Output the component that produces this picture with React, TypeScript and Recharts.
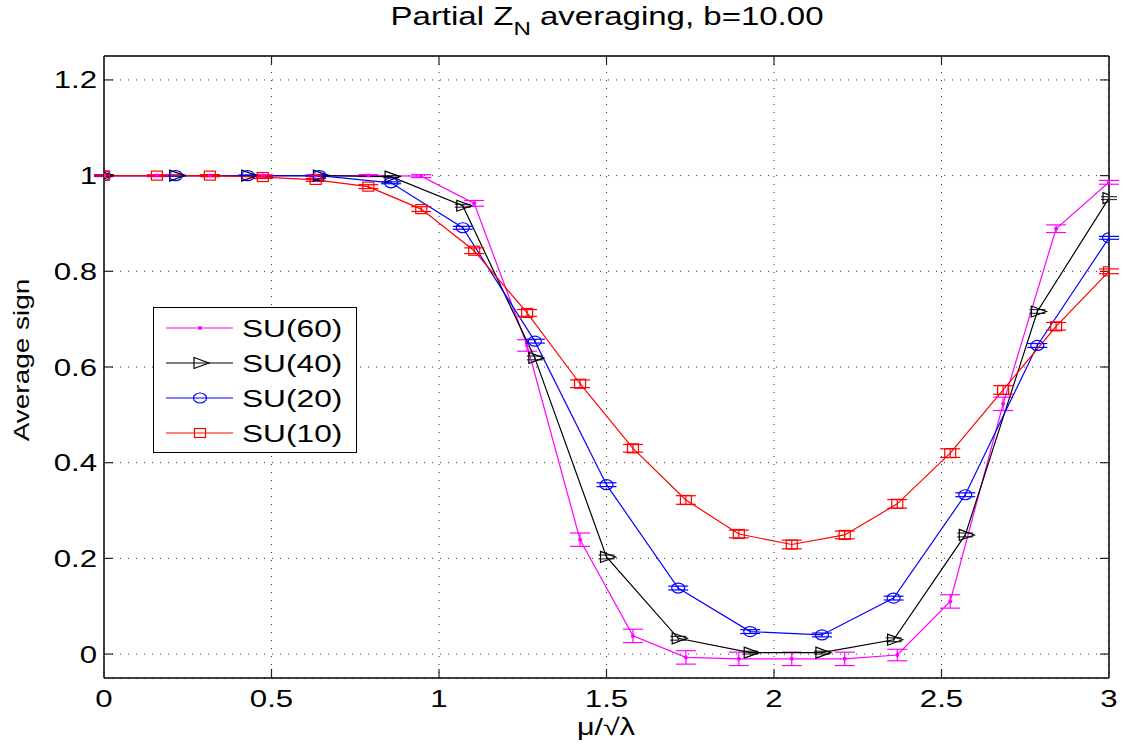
import {
  LineChart,
  Line,
  XAxis,
  YAxis,
  CartesianGrid,
  ErrorBar,
  ReferenceLine,
  Legend,
} from 'recharts'

const FONT = '"Liberation Sans", Arial, Helvetica, sans-serif'
const SX = 1.3

const xTicks = [0, 0.5, 1, 1.5, 2, 2.5, 3]
const yTicks = [0, 0.2, 0.4, 0.6, 0.8, 1, 1.2]

// two sampling grids in mu/sqrt(lambda)
const muFine = [0, 0.158, 0.316, 0.474, 0.632, 0.789, 0.947, 1.105, 1.263, 1.421, 1.579, 1.737, 1.895, 2.053, 2.211, 2.368, 2.526, 2.684, 2.842, 3]
const muCoarse = [0, 0.214, 0.429, 0.643, 0.857, 1.071, 1.286, 1.5, 1.714, 1.929, 2.143, 2.357, 2.571, 2.786, 3]

const sign60 = [1, 1, 1, 1, 1, 1, 0.999, 0.942, 0.645, 0.239, 0.038, -0.007, -0.01, -0.01, -0.01, -0.002, 0.11, 0.523, 0.889, 0.986]
const err60 = [0.002, 0.002, 0.002, 0.002, 0.002, 0.002, 0.003, 0.006, 0.012, 0.014, 0.014, 0.014, 0.014, 0.014, 0.014, 0.012, 0.014, 0.014, 0.008, 0.004]

const sign40 = [1, 1, 1, 1, 0.998, 0.937, 0.619, 0.203, 0.033, 0.003, 0.003, 0.03, 0.249, 0.716, 0.953]
const err40 = [0.001, 0.001, 0.001, 0.001, 0.002, 0.003, 0.004, 0.004, 0.004, 0.003, 0.003, 0.004, 0.004, 0.004, 0.003]

const sign20 = [1, 1, 1, 1, 0.985, 0.891, 0.654, 0.354, 0.138, 0.047, 0.04, 0.117, 0.333, 0.645, 0.87]
const err20 = [0.001, 0.001, 0.001, 0.001, 0.002, 0.003, 0.004, 0.004, 0.004, 0.004, 0.004, 0.004, 0.004, 0.004, 0.003]

const sign10 = [1, 1, 1, 0.997, 0.991, 0.977, 0.93, 0.843, 0.713, 0.565, 0.43, 0.322, 0.251, 0.229, 0.249, 0.314, 0.42, 0.552, 0.685, 0.8]
const err10 = [0.001, 0.001, 0.002, 0.003, 0.003, 0.004, 0.005, 0.006, 0.007, 0.008, 0.008, 0.009, 0.008, 0.009, 0.008, 0.009, 0.009, 0.009, 0.008, 0.005]

const build = (xs: number[], ys: number[], es: number[]) =>
  xs.map((x, i) => ({ x, y: ys[i], e: es[i] }))

const d60 = build(muFine, sign60, err60)
const d40 = build(muCoarse, sign40, err40)
const d20 = build(muCoarse, sign20, err20)
const d10 = build(muFine, sign10, err10)

const MAGENTA = '#ff00ff'
const BLUE = '#0000ff'
const RED = '#ff0000'
const BLACK = '#000000'

function Marker({ kind, cx, cy, color }: any) {
  if (cx == null || cy == null) return null
  if (kind === 'dot') return <circle cx={cx} cy={cy} r={2} fill={color} stroke="none" />
  if (kind === 'tri')
    return (
      <polygon
        points={`${cx - 6},${cy - 5.5} ${cx - 6},${cy + 5.5} ${cx + 9},${cy}`}
        fill="none"
        stroke={color}
        strokeWidth={1.2}
      />
    )
  if (kind === 'circ') return <ellipse cx={cx} cy={cy} rx={6.5} ry={5} fill="none" stroke={color} strokeWidth={1.2} />
  return <rect x={cx - 5.5} y={cy - 4.5} width={11} height={9} fill="none" stroke={color} strokeWidth={1.2} />
}

const dotFor = (kind: string, color: string) => (p: any) =>
  <Marker key={`${kind}-${p.index}`} kind={kind} cx={p.cx} cy={p.cy} color={color} />

function Wide({ x, y, size, anchor, rotate, sx, children }: any) {
  return (
    <text
      transform={`translate(${x},${y}) rotate(${rotate || 0}) scale(${sx || SX},1)`}
      x={0}
      y={0}
      textAnchor={anchor}
      fontSize={size}
      fontFamily={FONT}
      fill="#000"
    >
      {children}
    </text>
  )
}

function XTick({ x, y, payload }: any) {
  return <Wide x={x} y={y + 29} size={24} anchor="middle">{String(payload.value)}</Wide>
}

function YTick({ x, y, payload }: any) {
  return <Wide x={x} y={y + 8.5} size={24} anchor="end">{String(payload.value)}</Wide>
}

const legendRows = [
  { name: 'SU(60)', kind: 'dot', color: MAGENTA },
  { name: 'SU(40)', kind: 'tri', color: BLACK },
  { name: 'SU(20)', kind: 'circ', color: BLUE },
  { name: 'SU(10)', kind: 'sq', color: RED },
]

function LegendBox() {
  return (
    <div style={{ width: 204, height: 146, boxSizing: 'border-box', border: '1.5px solid #000', background: '#fff' }}>
      <svg width={201} height={143} style={{ display: 'block' }}>
        {legendRows.map((r, i) => {
          const cy = 20 + i * 35
          return (
            <g key={r.name}>
              <line x1={12} x2={79} y1={cy} y2={cy} stroke={r.color} strokeWidth={1.2} />
              <Marker kind={r.kind} cx={46} cy={cy} color={r.color} />
              <Wide x={88} y={cy + 8.5} size={24} anchor="start" sx={1.32}>{r.name}</Wide>
            </g>
          )
        })}
      </svg>
    </div>
  )
}

const tickColor = '#222'

export default function App() {
  return (
    <div style={{ position: 'absolute', left: 0, top: 0, width: 1125, height: 744, background: '#fff' }}>
      <LineChart width={1125} height={744} margin={{ top: 56, right: 16, bottom: 0, left: 0 }}>
        <CartesianGrid stroke="#333" strokeDasharray="1 7" />
        <XAxis
          dataKey="x"
          type="number"
          domain={[0, 3]}
          ticks={xTicks}
          allowDataOverflow
          height={66}
          tickSize={0}
          tickMargin={0}
          tickLine={false}
          tick={<XTick />}
          axisLine={{ stroke: '#000', strokeWidth: 1.5 }}
        />
        <YAxis
          type="number"
          domain={[-0.05, 1.25]}
          ticks={yTicks}
          allowDataOverflow
          width={104}
          tickSize={0}
          tickMargin={7}
          tickLine={false}
          tick={<YTick />}
          axisLine={{ stroke: '#000', strokeWidth: 1.5 }}
        />
        <ReferenceLine y={1.25} stroke="#000" strokeWidth={1.5} />
        <ReferenceLine x={3} stroke="#000" strokeWidth={1.5} />
        {xTicks.slice(1, -1).map(t => (
          <ReferenceLine key={`xb${t}`} segment={[{ x: t, y: -0.05 }, { x: t, y: -0.031 }]} stroke={tickColor} strokeWidth={1.2} />
        ))}
        {xTicks.slice(1, -1).map(t => (
          <ReferenceLine key={`xt${t}`} segment={[{ x: t, y: 1.25 }, { x: t, y: 1.231 }]} stroke={tickColor} strokeWidth={1.2} />
        ))}
        {yTicks.map(t => (
          <ReferenceLine key={`yl${t}`} segment={[{ x: 0, y: t }, { x: 0.027, y: t }]} stroke={tickColor} strokeWidth={1.2} />
        ))}
        {yTicks.map(t => (
          <ReferenceLine key={`yr${t}`} segment={[{ x: 2.973, y: t }, { x: 3, y: t }]} stroke={tickColor} strokeWidth={1.2} />
        ))}
        <Line data={d60} dataKey="y" type="linear" stroke={MAGENTA} strokeWidth={1.2} dot={dotFor('dot', MAGENTA)} isAnimationActive={false}>
          <ErrorBar dataKey="e" direction="y" width={10} stroke={MAGENTA} strokeWidth={1.2} />
        </Line>
        <Line data={d40} dataKey="y" type="linear" stroke={BLACK} strokeWidth={1.2} dot={dotFor('tri', BLACK)} isAnimationActive={false}>
          <ErrorBar dataKey="e" direction="y" width={8} stroke="#333" strokeWidth={1.2} />
        </Line>
        <Line data={d20} dataKey="y" type="linear" stroke={BLUE} strokeWidth={1.2} dot={dotFor('circ', BLUE)} isAnimationActive={false}>
          <ErrorBar dataKey="e" direction="y" width={10} stroke={BLUE} strokeWidth={1.2} />
        </Line>
        <Line data={d10} dataKey="y" type="linear" stroke={RED} strokeWidth={1.2} dot={dotFor('sq', RED)} isAnimationActive={false}>
          <ErrorBar dataKey="e" direction="y" width={10} stroke={RED} strokeWidth={1.2} />
        </Line>
        <Legend
          layout="vertical"
          align="center"
          verticalAlign="middle"
          content={<LegendBox />}
          wrapperStyle={{ left: 153, top: 307, width: 204, height: 146 }}
        />
      </LineChart>
      <svg width={1125} height={744} style={{ position: 'absolute', left: 0, top: 0, pointerEvents: 'none' }}>
        <text
          transform="translate(607,25) scale(1.27,1)"
          textAnchor="middle"
          fontSize={26}
          fontFamily={FONT}
          fill="#000"
        >
          Partial Z<tspan fontSize={19} dy={10}>N</tspan><tspan dy={-10}> averaging, b=10.00</tspan>
        </text>
        <Wide x={606} y={735} size={23.5} anchor="middle">μ/√λ</Wide>
        <Wide x={28.5} y={360} size={21.5} anchor="middle" rotate={-90}>Average sign</Wide>
      </svg>
    </div>
  )
}
